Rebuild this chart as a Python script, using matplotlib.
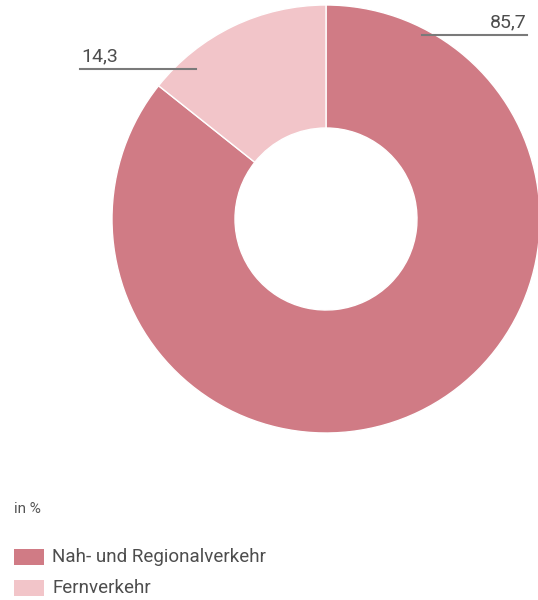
import matplotlib.pyplot as plt

# Anteile in %
labels = ['Nah- und Regionalverkehr', 'Fernverkehr']
values = [85.7, 14.3]
value_text = ['85,7', '14,3']
colors = ['#d07b85', '#f2c5c9']

plt.rcParams['font.family'] = ['Roboto', 'DejaVu Sans']

fig = plt.figure(figsize=(5.38, 6), dpi=100)
ax = fig.add_axes([0, 0, 1, 1])
ax.set_xlim(0, 538)
ax.set_ylim(0, 600)
ax.set_aspect('equal')
ax.axis('off')

# Ring
ax.pie(values, colors=colors, startangle=90, counterclock=False,
       center=(326, 381), radius=214,
       wedgeprops=dict(width=123, edgecolor='white', linewidth=1))
ax.set_xlim(0, 538)
ax.set_ylim(0, 600)

# Wertebeschriftung mit Linie
ax.plot([422, 527], [565, 565], color='#7a7a7a', lw=1.5)
ax.text(527, 569, value_text[0], ha='right', va='bottom', fontsize=14, color='#4d4d4d')
ax.plot([80, 196], [531, 531], color='#7a7a7a', lw=1.5)
ax.text(81, 535, value_text[1], ha='left', va='bottom', fontsize=14, color='#4d4d4d')

ax.text(14, 91, 'in %', ha='left', va='center', fontsize=11, color='#555555')

# Legende
for i, (lab, col) in enumerate(zip(labels, colors)):
    y = 43 - i * 31
    ax.add_patch(plt.Rectangle((14, y - 8), 30, 16, color=col, lw=0))
    ax.text(52, y, lab, ha='left', va='center', fontsize=13.5, color='#4d4d4d')

fig.savefig('out.png', dpi=100)
